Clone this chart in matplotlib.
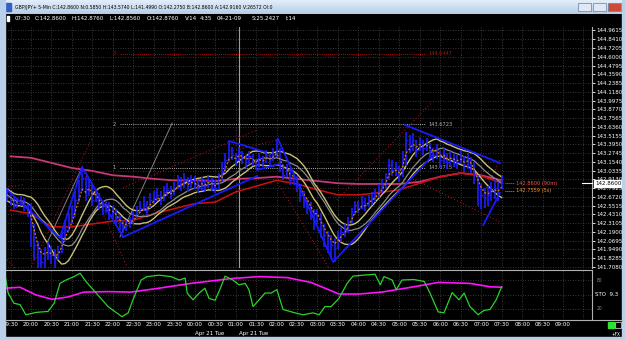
import matplotlib
matplotlib.use('Agg')
import matplotlib.pyplot as plt
import matplotlib.transforms as mtrans
from matplotlib import font_manager
from matplotlib.font_manager import FontProperties
from matplotlib.patches import Rectangle
from matplotlib.colors import LinearSegmentedColormap
import numpy as np
import pandas as pd

# ---------------- data ----------------
# 5-minute bars starting 19:25 (bar index 0) up to 07:30
closes = [142.70, 142.63, 142.56, 142.59, 142.63, 142.53, 142.46, 142.29, 142.01, 141.83,
          141.78, 141.87, 141.94, 141.87, 141.83, 141.91, 142.08, 142.22, 142.33, 142.42,
          142.63, 142.77, 142.93, 142.70, 142.84, 142.63, 142.70, 142.56, 142.49, 142.56,
          142.42, 142.46, 142.38, 142.29, 142.24, 142.29, 142.33, 142.38, 142.46, 142.52,
          142.56, 142.49, 142.63, 142.66, 142.70, 142.63, 142.74, 142.77, 142.70, 142.79,
          142.88, 142.84, 142.90, 142.82, 142.90, 142.85, 142.79, 142.88, 142.82, 142.90,
          142.85, 142.79, 142.90, 143.01, 143.18, 143.32, 143.25, 143.18, 143.29, 143.21,
          143.15, 143.23, 143.18, 143.11, 143.21, 143.15, 143.25, 143.18, 143.25, 143.32,
          143.11, 142.97, 143.04, 142.90, 142.93, 142.84, 142.70, 142.63, 142.56, 142.46,
          142.35, 142.42, 142.24, 142.15, 142.08, 142.01, 141.97, 142.11, 142.19, 142.22,
          142.33, 142.46, 142.56, 142.52, 142.60, 142.56, 142.63, 142.66, 142.70, 142.77,
          142.84, 142.93, 143.11, 143.04, 143.07, 142.97, 143.18, 143.46, 143.39, 143.46,
          143.32, 143.43, 143.35, 143.39, 143.32, 143.25, 143.32, 143.18, 143.25, 143.15,
          143.21, 143.18, 143.15, 143.21, 143.11, 143.18, 143.11, 142.97, 142.77, 142.70,
          142.66, 142.70, 142.77, 142.79, 142.74, 142.86]
highs = [142.78, 142.72, 142.66, 142.66, 142.70, 142.66, 142.58, 142.59, 142.30, 142.05,
         141.95, 141.98, 142.05, 142.00, 141.95, 142.00, 142.20, 142.35, 142.45, 142.55,
         142.75, 142.90, 143.08, 142.95, 142.90, 142.85, 142.78, 142.72, 142.62, 142.62,
         142.60, 142.55, 142.50, 142.42, 142.35, 142.36, 142.40, 142.48, 142.55, 142.62,
         142.68, 142.62, 142.72, 142.75, 142.80, 142.76, 142.82, 142.86, 142.82, 142.88,
         142.98, 142.95, 143.00, 142.94, 142.98, 142.96, 142.90, 142.95, 142.92, 142.98,
         142.94, 142.90, 143.00, 143.15, 143.28, 143.44, 143.36, 143.28, 143.36, 143.30,
         143.25, 143.30, 143.26, 143.20, 143.28, 143.24, 143.32, 143.28, 143.34, 143.47,
         143.34, 143.12, 143.12, 143.05, 143.00, 142.96, 142.85, 142.75, 142.66, 142.60,
         142.50, 142.50, 142.45, 142.30, 142.20, 142.15, 142.10, 142.20, 142.25, 142.30,
         142.40, 142.52, 142.62, 142.62, 142.68, 142.66, 142.70, 142.74, 142.78, 142.85,
         142.92, 143.00, 143.20, 143.18, 143.15, 143.10, 143.30, 143.57, 143.52, 143.55,
         143.45, 143.50, 143.45, 143.48, 143.42, 143.35, 143.40, 143.30, 143.35, 143.28,
         143.30, 143.28, 143.25, 143.32, 143.24, 143.28, 143.22, 143.15, 142.98, 142.85,
         142.80, 142.82, 142.88, 142.92, 142.88, 142.98]
lows = [142.62, 142.56, 142.50, 142.52, 142.55, 142.48, 142.40, 141.98, 141.80, 141.50,
        141.55, 141.70, 141.80, 141.75, 141.70, 141.80, 141.90, 142.05, 142.20, 142.30,
        142.40, 142.60, 142.75, 142.62, 142.68, 142.55, 142.60, 142.50, 142.42, 142.45,
        142.35, 142.38, 142.30, 142.22, 142.18, 142.20, 142.25, 142.30, 142.38, 142.45,
        142.48, 142.42, 142.52, 142.58, 142.62, 142.56, 142.62, 142.68, 142.64, 142.70,
        142.78, 142.76, 142.80, 142.74, 142.80, 142.78, 142.72, 142.76, 142.74, 142.80,
        142.76, 142.72, 142.78, 142.88, 143.00, 143.15, 143.18, 143.10, 143.16, 143.12,
        143.08, 143.12, 143.10, 143.04, 143.08, 143.08, 143.14, 143.10, 143.16, 143.22,
        143.02, 142.90, 142.94, 142.84, 142.84, 142.74, 142.60, 142.52, 142.44, 142.36,
        142.22, 142.30, 142.10, 141.98, 141.90, 141.82, 141.78, 141.95, 142.05, 142.12,
        142.18, 142.30, 142.42, 142.45, 142.50, 142.48, 142.54, 142.56, 142.60, 142.66,
        142.72, 142.80, 142.90, 142.96, 142.96, 142.88, 142.95, 143.10, 143.28, 143.30,
        143.22, 143.30, 143.25, 143.30, 143.22, 143.15, 143.20, 143.08, 143.12, 143.05,
        143.10, 143.08, 143.05, 143.12, 143.02, 143.06, 143.00, 142.85, 142.55, 142.50,
        142.52, 142.55, 142.62, 142.65, 142.62, 142.78]

# long moving averages, read every 30 minutes from 19:30 to 07:30
ma_magenta = [143.23, 143.21, 143.14, 143.07, 143.03, 142.97, 142.95, 142.92, 142.90, 142.90,
              142.89, 142.92, 142.93, 142.95, 142.92, 142.89, 142.86, 142.85, 142.85, 142.85,
              142.88, 142.95, 143.00, 142.97, 142.90]
ma_red = [142.49, 142.44, 142.26, 142.26, 142.30, 142.34, 142.35, 142.44, 142.51, 142.58,
          142.60, 142.74, 142.82, 142.90, 142.85, 142.77, 142.70, 142.70, 142.73, 142.77,
          142.86, 142.95, 143.00, 142.96, 142.86]

# stochastic (9,3): %K (green) and signal (magenta), (bar index, value)
sto_k_bar = [-0.6, 0.3, 2.0, 3.8, 5.5, 8.5, 12.0, 13.8, 15.5, 17.3, 19.6, 21.4, 23.1, 26.1, 29.6,
             33.7, 35.5, 36.9, 39.3, 41.0, 44.5, 48.1, 50.4, 52.2, 52.8, 54.5, 56.3, 58.0, 59.2,
             61.0, 62.7, 63.9, 66.2, 68.0, 69.8, 70.9, 72.1, 73.9, 75.6, 77.4, 79.1, 80.9, 84.4,
             86.8, 89.7, 91.5, 93.2, 95.0, 97.3, 99.7, 101.4, 104.4, 107.9, 109.4, 110.5, 112.9,
             114.1, 115.8, 119.3, 122.3, 124.0, 126.4, 128.1, 130.5, 132.5, 134.0, 135.7, 138.1,
             139.8, 141.6, 143.4, 145.0]
sto_k = [90, 53, 32, 29, 8, 13, 15, 32, 73, 80, 87, 94, 77, 53, 25,
         4, 12, 39, 80, 87, 90, 87, 80, 84, 53, 39, 53, 63, 42,
         38, 66, 88, 80, 70, 73, 60, 25, 39, 53, 53, 60, 19, 12,
         8, 12, 8, 25, 25, 42, 73, 88, 90, 92, 70, 87, 80,
         60, 80, 81, 77, 53, 14, 12, 54, 39, 53, 25, 8,
         17, 19, 39, 66]
sto_d_bar = [-0.6, 3.8, 8.5, 13.2, 17.9, 22.5, 29.6, 36.3, 44.5, 53.9, 65.7, 73.9, 82.1, 89.1,
             97.3, 103.2, 109.9, 119.3, 126.4, 135.7, 141.6, 145.0]
sto_d = [63, 65, 49, 40, 45, 55, 56, 55, 63, 73, 83, 87, 85, 75,
         51, 51, 55, 66, 75, 73, 66, 65]

# price axis
price_top = 144.9615
price_step = 0.1205
n_price_ticks = 28

# time axis labels (every 30 min starting 19:30 = bar 1)
time_labels = ['19:30', '20:00', '20:30', '21:00', '21:30', '22:00', '22:30', '23:00', '23:30',
               '00:00', '00:30', '01:00', '01:30', '02:00', '02:30', '03:00', '03:30', '04:00',
               '04:30', '05:00', '05:30', '06:00', '06:30', '07:00', '07:30', '08:00', '08:30',
               '09:00']

# fibonacci levels
fib_names = ['3', '2', '1']
fib_prices = [144.6447, 143.6723, 143.0715]

# drawn trend lines (bar index, price)
blue_lines = [
    ([-0.6, 15.5, 22.0, 34.0], [142.795, 142.107, 143.084, 142.121]),
    ([34.0, 73.3], [142.121, 142.960]),
    ([65.1, 75.6], [143.441, 143.290]),
    ([73.3, 80.0], [143.043, 143.125]),
    ([79.4, 95.6, 124.9], [143.469, 141.777, 143.249]),
    ([116.7, 144.5], [143.662, 143.139]),
    ([139.6, 144.5], [142.286, 142.726]),
]
red_rays = [
    ([6.7, 24.9], [141.667, 143.483]),
    ([34.0, 73.3], [142.795, 143.593]),
    ([22.3, 35.2], [143.043, 141.708]),
    ([-0.6, 4.7], [142.809, 142.836]),
    ([66.2, 79.1], [143.304, 143.455]),
    ([79.4, 94.7], [142.864, 141.667]),
    ([96.7, 124.6], [142.630, 143.978]),
    ([119.6, 144.5], [142.905, 142.327]),
    ([138.7, 144.5], [142.630, 143.180]),
    ([0.0, 2.3], [141.805, 141.694]),
]
gray_rays = [
    ([33.1, 48.4], [142.121, 143.689]),
    ([11.7, 22.0], [142.038, 143.084]),
]

last_price = 142.8600
side_labels = ['142.8600 (90m)', '142.7559 (5s)']
side_prices = [142.8600, 142.7559]

title_text = ('GBP/JPY+ 5-Min C:142.8600 N:0.5850 H:143.5740 L:141.4990 '
              'O:142.2750 B:142.8600 A:142.9160 V:26572 OI:0')
info_items = ['07:30', 'C:142.8600', 'H:142.8760', 'L:142.8560', 'O:142.8760',
              'V:14', '4:35', '04-21-09', 'S:25.2427', 'I:14']

# ---------------- fonts ----------------
narrow_path = None
for f in font_manager.fontManager.ttflist:
    fn = f.fname.lower()
    if ('narrow' in fn or 'condensed' in fn) and 'bold' not in fn and 'italic' not in fn \
            and 'oblique' not in fn and 'semibold' not in fn and 'light' not in fn \
            and 'black' not in fn and 'medium' not in fn and 'thin' not in fn:
        if 'liberation' in fn:
            narrow_path = f.fname
            break
        if narrow_path is None:
            narrow_path = f.fname
if narrow_path:
    FP = FontProperties(fname=narrow_path)
else:
    FP = FontProperties(family='Liberation Sans')

W, H = 625, 340
fig = plt.figure(figsize=(W / 100, H / 100), dpi=100, facecolor='black')
renderer = fig.canvas.get_renderer()


def fsize(text, px):
    t = fig.text(0, 0, text, fontproperties=FP, fontsize=10)
    w = t.get_window_extent(renderer=renderer).width
    t.remove()
    return 10 * px / w


def fp(size):
    p = FP.copy()
    p.set_size(size)
    return p


S_PRICE = fsize('144.9615', 26)
S_TIME = fsize('20:00', 16)
S_INFO = fsize('C:142.8600', 32)
S_TITLE = fsize(title_text, 262)
S_SMALL = S_PRICE * 0.92


def fr(x0, y0, x1, y1):
    return [x0 / W, 1 - y1 / H, (x1 - x0) / W, (y1 - y0) / H]


# window frame
frame_col = '#b8d0ea'
fig.patches.append(Rectangle((0, 0), 5 / W, 1, transform=fig.transFigure, color=frame_col, zorder=0))
fig.patches.append(Rectangle((622 / W, 0), 3 / W, 1, transform=fig.transFigure, color=frame_col, zorder=0))
fig.patches.append(Rectangle((0, 0), 1, 3 / H, transform=fig.transFigure, color=frame_col, zorder=0))

# title bar
tax = fig.add_axes(fr(0, 0, W, 14))
grad = np.linspace(0, 1, 20).reshape(-1, 1)
cmap = LinearSegmentedColormap.from_list('tb', ['#e4eef9', '#b5cde8'])
tax.imshow(grad, aspect='auto', cmap=cmap, extent=(0, 1, 0, 1))
tax.set_xlim(0, 1)
tax.set_ylim(0, 1)
tax.axis('off')
tax.add_patch(Rectangle((3 / W, 0.2), 8 / W, 0.6, color='#3060c0'))
tax.text(15 / W, 0.5, title_text, fontproperties=fp(S_TITLE), va='center', ha='left', color='black')
for bx, c in [(578, '#dfe8f3'), (593, '#dfe8f3'), (608, '#d04a3a')]:
    tax.add_patch(Rectangle((bx / W, 0.18), 13 / W, 0.62, facecolor=c, edgecolor='#6a7f99', lw=0.5))

# info line
for txt, x in zip(info_items, [15, 35, 72, 110, 147, 185, 200, 217, 252, 285]):
    fig.text(x / W, 1 - 18 / H, txt, fontproperties=fp(S_INFO), color='white', va='center', ha='left')
fig.patches.append(Rectangle((7 / W, 1 - 21 / H), 2 / W, 5 / H, transform=fig.transFigure, color='white'))

# ---------------- main price panel ----------------
n = len(closes)
idx = np.arange(n)
XL = (-0.62, 171.5)
ax = fig.add_axes(fr(5, 27, 592, 268))
ax.set_facecolor('black')
ax.set_xlim(*XL)
ax.set_ylim(141.694, 145.0096)

ticks = [price_top - k * price_step for k in range(n_price_ticks)]
grid_kw = dict(color='#4a4a4a', lw=0.6, linestyle=(0, (1, 2)), zorder=0)
for p in ticks:
    ax.axhline(p, **grid_kw)
tick_bars = [1 + 6 * k for k in range(len(time_labels) + 1)]
for b in tick_bars:
    ax.axvline(b, **grid_kw)

# cursor line
ax.axvline(68.0, color='#9a9a9a', lw=0.8, zorder=1)

# fib levels
for name, fpr in zip(fib_names, fib_prices):
    col = '#b01010' if name == '3' else '#b0b0b0'
    ax.plot([33.1, 122.6], [fpr, fpr], color=col, lw=0.7, linestyle=(0, (1, 1.2)), zorder=1)
    ax.text(31.8, fpr, name, color=col, fontproperties=fp(S_SMALL), ha='right', va='center')
    ax.text(123.5, fpr, f'{fpr:.4f}', color=col, fontproperties=fp(S_SMALL), ha='left', va='center')

# rays
for xs, ys in red_rays:
    ax.plot(xs, ys, color='#a01010', lw=0.8, linestyle=(0, (1, 2)), zorder=2)
for xs, ys in gray_rays:
    ax.plot(xs, ys, color='#808080', lw=0.7, zorder=2)

# moving averages
s = pd.Series(closes)
ema3 = s.ewm(span=3, adjust=False).mean()
sma_gray = s.rolling(12, min_periods=1).mean()
khaki_hi = pd.Series(highs).rolling(10, min_periods=1).mean()
khaki_lo = pd.Series(lows).rolling(10, min_periods=1).mean()
ma_bars = [1 + 6 * k for k in range(len(ma_magenta))]
ax.plot(ma_bars, ma_magenta, color='#c83878', lw=1.3, zorder=3)
ax.plot(ma_bars, ma_red, color='#d01010', lw=1.1, zorder=3)
ax.plot(idx, sma_gray, color='#8c8c8c', lw=0.9, zorder=3)
ax.plot(idx, khaki_hi, color='#c8c078', lw=1.0, zorder=3)
ax.plot(idx, khaki_lo, color='#c8c078', lw=1.0, zorder=3)

# OHLC bars
ax.vlines(idx, lows, highs, color='#1e1eff', lw=1.2, zorder=4)
ax.hlines(closes, idx, idx + 0.45, color='#1e1eff', lw=1.0, zorder=4)
ax.plot(idx, ema3, color='#e07a10', lw=0.9, linestyle=(0, (1.5, 1.5)), zorder=5)

# trend lines
for xs, ys in blue_lines:
    ax.plot(xs, ys, color='#1a1aff', lw=1.3, zorder=6)

# side labels
side_cols = ['#ff5050', '#ff8c1a']
for lab, sp, c in zip(side_labels, side_prices, side_cols):
    ax.plot([146.0, 148.5], [sp, sp], color=c, lw=0.7, linestyle=(0, (1, 1)), zorder=6)
    ax.text(149.2, sp, lab, color=c, fontproperties=fp(S_SMALL), ha='left', va='center', zorder=6)

# price axis
ax.yaxis.tick_right()
ax.set_yticks(ticks)
ax.set_yticklabels([f'{p:.4f}' for p in ticks])
for lab in ax.get_yticklabels():
    lab.set_fontproperties(fp(S_PRICE))
ax.tick_params(axis='y', colors='white', length=2, width=0.6, pad=1)
ax.set_xticks([])
for sp_name, spine in ax.spines.items():
    spine.set_visible(sp_name == 'right')
ax.spines['right'].set_color('#b0b0b0')
ax.annotate(f'{last_price:.4f}', xy=(1, last_price), xycoords=('axes fraction', 'data'),
            xytext=(2.2, 0), textcoords='offset points', fontproperties=fp(S_PRICE), color='black',
            va='center', ha='left', zorder=10,
            bbox=dict(boxstyle='square,pad=0.15', fc='white', ec='white'),
            annotation_clip=False)
ax.plot([168.5, 171.4], [last_price, last_price], color='white', lw=0.8, zorder=7, clip_on=False)

# ---------------- stochastic panel ----------------
ax2 = fig.add_axes(fr(5, 270, 592, 319))
ax2.set_facecolor('black')
ax2.set_xlim(*XL)
ax2.set_ylim(-0.7, 100.7)
for lv in (80, 50, 20):
    ax2.axhline(lv, **grid_kw)
for b in tick_bars:
    ax2.axvline(b, **grid_kw)
ax2.plot(sto_d_bar, sto_d, color='#ff10ff', lw=1.2, zorder=3)
ax2.plot(sto_k_bar, sto_k, color='#2ad22a', lw=0.9, zorder=4)
ax2.set_yticks([])
ax2.set_xticks([1 + 6 * k for k in range(len(time_labels))])
ax2.set_xticklabels(time_labels)
for lab in ax2.get_xticklabels():
    lab.set_fontproperties(fp(S_TIME))
ax2.tick_params(axis='x', colors='white', length=0, pad=2.5)
for sp_name, spine in ax2.spines.items():
    spine.set_visible(sp_name in ('right', 'top'))
    spine.set_color('#b0b0b0')
trans = mtrans.blended_transform_factory(ax2.transAxes, ax2.transData)
ax2.text(1.008, 80, '80', transform=trans, color='#909090', fontproperties=fp(S_SMALL * 0.9), va='center')
ax2.text(1.008, 20, '20', transform=trans, color='#909090', fontproperties=fp(S_SMALL * 0.9), va='center')
ax2.text(1.005, 50, 'STO  9,3', transform=trans, color='white', fontproperties=fp(S_PRICE), va='center')
dtrans = mtrans.blended_transform_factory(ax2.transData, fig.transFigure)
for b in (55.0, 68.0):
    ax2.text(b, 1 - 334 / H, 'Apr 21 Tue', transform=dtrans, color='white', fontproperties=fp(S_TIME),
             ha='left', va='center')

# bottom line and corner widgets
fig.lines.append(plt.Line2D([5 / W, 622 / W], [1 - 319.5 / H] * 2, transform=fig.transFigure,
                            color='#b0b0b0', lw=0.8))
fig.patches.append(Rectangle((608 / W, 1 - 328 / H), 6 / W, 6 / H, transform=fig.transFigure,
                             color='#30e030'))
fig.patches.append(Rectangle((615 / W, 1 - 328 / H), 6 / W, 6 / H, transform=fig.transFigure,
                             facecolor='black', edgecolor='#c0c0c0', lw=0.6))
fig.text(612 / W, 1 - 334 / H, '+FX', fontproperties=fp(S_SMALL * 0.85), color='white', va='center', ha='left')

fig.savefig('out.png', dpi=100, facecolor='black')
